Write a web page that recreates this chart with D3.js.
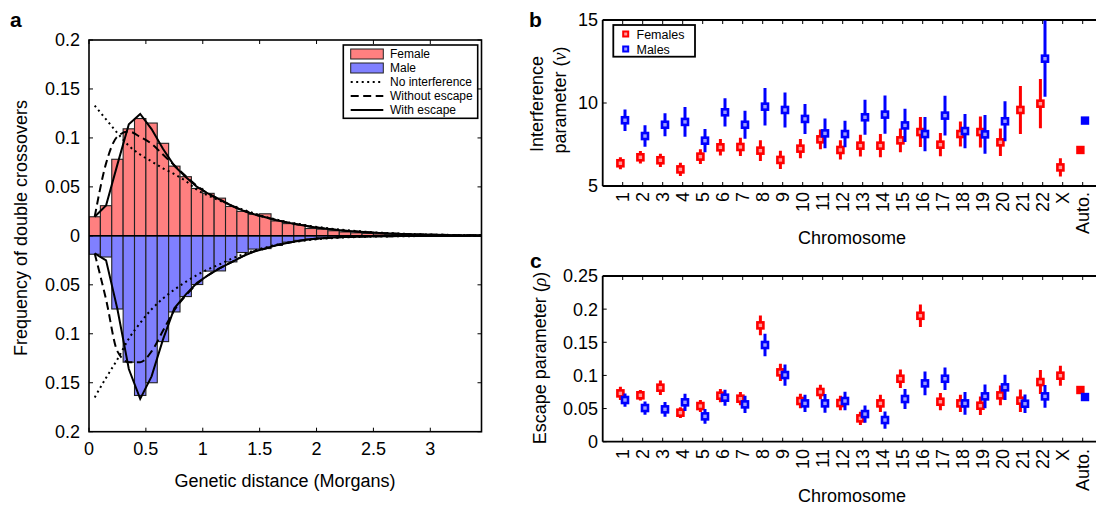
<!DOCTYPE html>
<html><head><meta charset="utf-8">
<script src="https://cdn.jsdelivr.net/npm/d3@7"></script>
<style>
body{margin:0;background:#fff;}
text{font-family:"Liberation Sans",Arial,Helvetica,sans-serif;fill:#000;}
</style></head>
<body><svg id="c" width="1096" height="505"></svg>
<script>
// ---------- Panel a data ----------
const binStarts = [0,0.1,0.2,0.3,0.4,0.5,0.6,0.7,0.8,0.9,1.0,1.1,1.2,1.3,1.4,1.5,1.6,1.7,1.8,1.9,2.0,2.1,2.2,2.3,2.4,2.5,2.6,2.7,2.8,2.9,3.0,3.1,3.2,3.3,3.4];
const binCenters = [0.05,0.15,0.25,0.35,0.45,0.55,0.65,0.75,0.85,0.95,1.05,1.15,1.25,1.35,1.45,1.55,1.65,1.75,1.85,1.95,2.05,2.15,2.25,2.35,2.45,2.55,2.65,2.75,2.85,2.95,3.05,3.15,3.25,3.35,3.45];
const femaleFreq = [0.0195,0.0308,0.0782,0.1093,0.1198,0.1152,0.0945,0.0712,0.0604,0.0484,0.0434,0.0385,0.0300,0.0250,0.0220,0.0225,0.0152,0.0125,0.0114,0.0075,0.0068,0.0052,0.0040,0.0031,0.0025,0.0019,0.0015,0.0011,0.0009,0.0007,0.0005,0.0004,0.0003,0.0002,0.0002];
const maleFreq = [0.0188,0.0216,0.0747,0.1290,0.1630,0.1500,0.1080,0.0777,0.0620,0.0497,0.0360,0.0358,0.0266,0.0170,0.0135,0.0130,0.0098,0.0064,0.0046,0.0031,0.0022,0.0016,0.0011,0.0008,0.0006,0.0004,0.0003,0.0002,0.0002,0.0001,0.0001,0.0001,0.0001,0.0000,0.0000];
const femaleWithEscape = [0.0195,0.031,0.073,0.114,0.1245,0.109,0.089,0.0715,0.060,0.050,0.043,0.037,0.031,0.026,0.022,0.019,0.016,0.0135,0.0113,0.0094,0.0078,0.0064,0.0053,0.0044,0.0036,0.003,0.0024,0.002,0.0016,0.0013,0.0011,0.0009,0.0007,0.0006,0.0005];
const femaleWithoutEscape = [0.0195,0.074,0.1015,0.1065,0.101,0.094,0.083,0.072,0.061,0.051,0.043,0.037,0.031,0.026,0.022,0.019,0.016,0.0135,0.0113,0.0094,0.0078,0.0064,0.0053,0.0044,0.0036,0.003,0.0024,0.002,0.0016,0.0013,0.0011,0.0009,0.0007,0.0006,0.0005];
const femaleNoInterf = [0.133,0.119,0.105,0.092,0.083,0.076,0.069,0.063,0.056,0.047,0.041,0.036,0.031,0.027,0.023,0.0195,0.0165,0.014,0.012,0.010,0.0085,0.007,0.006,0.005,0.004,0.0033,0.0027,0.0022,0.0018,0.0015,0.0012,0.001,0.0008,0.0007,0.0006];
const maleWithEscape = [0.018,0.025,0.075,0.136,0.1665,0.1435,0.106,0.074,0.060,0.048,0.040,0.033,0.027,0.021,0.016,0.013,0.0095,0.007,0.005,0.0035,0.0025,0.0018,0.0012,0.0008,0.0006,0.0004,0.0003,0.0002,0.0002,0.0001,0.0001,0.0001,0.0001,0,0];
const maleWithoutEscape = [0.018,0.065,0.118,0.129,0.129,0.118,0.097,0.076,0.061,0.049,0.040,0.033,0.027,0.021,0.016,0.013,0.0095,0.007,0.005,0.0035,0.0025,0.0018,0.0012,0.0008,0.0006,0.0004,0.0003,0.0002,0.0002,0.0001,0.0001,0.0001,0.0001,0,0];
const maleNoInterf = [0.165,0.145,0.126,0.105,0.089,0.075,0.064,0.055,0.047,0.040,0.034,0.029,0.0235,0.019,0.015,0.012,0.009,0.007,0.0055,0.004,0.003,0.0022,0.0016,0.0012,0.0009,0.0007,0.0005,0.0004,0.0003,0.0002,0.0002,0.0001,0.0001,0.0001,0.0001];
const aXTicks = [0,0.5,1,1.5,2,2.5,3];
const aYTicks = [-0.2,-0.15,-0.1,-0.05,0,0.05,0.1,0.15,0.2];
const aYTickLabels = ["0.2","0.15","0.1","0.05","0","0.05","0.1","0.15","0.2"];

// ---------- Panels b, c data ----------
const chromLabels = ["1","2","3","4","5","6","7","8","9","10","11","12","13","14","15","16","17","18","19","20","21","22","X","Auto."];
const nuFemale    = [6.37,6.73,6.55,6.0,6.77,7.33,7.35,7.13,6.57,7.25,7.81,7.17,7.43,7.43,7.75,8.25,7.49,8.13,8.25,7.63,9.58,9.96,6.12,7.17];
const nuFemaleErr = [0.36,0.38,0.4,0.4,0.45,0.5,0.55,0.62,0.55,0.58,0.6,0.58,0.65,0.7,0.72,0.9,0.7,0.75,0.93,0.83,1.45,1.48,0.55,0];
const nuMale      = [8.96,8.01,8.69,8.86,7.73,9.44,8.69,9.78,9.58,9.04,8.17,8.13,9.14,9.3,8.65,8.13,9.24,8.31,8.11,8.9,null,12.67,null,8.94];
const nuMaleErr   = [0.65,0.65,0.7,0.9,0.7,0.85,0.85,1.13,1.05,0.9,0.9,0.8,1.05,1.15,1.0,1.03,1.2,1.03,1.16,1.2,null,2.3,null,0];
const rhoFemale    = [0.0729,0.070,0.0815,0.0438,0.0538,0.0694,0.0649,0.1755,0.1046,0.0614,0.075,0.0583,0.0352,0.0578,0.095,0.190,0.0603,0.0578,0.0543,0.0699,0.0619,0.090,0.0996,0.078];
const rhoFemaleErr = [0.01,0.008,0.011,0.008,0.009,0.01,0.01,0.015,0.013,0.011,0.011,0.011,0.01,0.013,0.014,0.017,0.013,0.013,0.014,0.015,0.017,0.018,0.015,0];
const rhoMale      = [0.0629,0.0508,0.0488,0.0594,0.0382,0.0664,0.0563,0.1459,0.1006,0.0578,0.0578,0.0614,0.0417,0.0327,0.0644,0.088,0.095,0.0578,0.0684,0.082,0.0573,0.0684,null,0.0674];
const rhoMaleErr   = [0.01,0.01,0.011,0.013,0.011,0.012,0.013,0.017,0.016,0.013,0.014,0.014,0.013,0.013,0.015,0.018,0.017,0.017,0.018,0.019,0.014,0.017,null,0];
const bYTicks = [5,10,15];
const cYTicks = [0,0.05,0.1,0.15,0.2,0.25];
const cYTickLabels = ["0","0.05","0.1","0.15","0.2","0.25"];

const RED = "#ff0000", BLUE = "#0000ff";
const FEM_FILL = "#ff8080", MALE_FILL = "#8080ff";
const FS = 18;
const svg = d3.select("#c");
svg.append("rect").attr("width",1096).attr("height",505).attr("fill","#fff");

// ================= Panel a =================
(function(){
  const L=89, R=481.5, T=40, B=431.7;
  const x = d3.scaleLinear().domain([0,3.45]).range([L,R]);
  const y = d3.scaleLinear().domain([-0.2,0.2]).range([B,T]); // female up, male down
  const g = svg.append("g");
  g.append("defs").append("clipPath").attr("id","clipA").append("rect")
    .attr("x",L).attr("y",T).attr("width",R-L).attr("height",B-T);
  const plot = g.append("g").attr("clip-path","url(#clipA)");
  const bw = x(0.1)-x(0);
  plot.selectAll("rect.f").data(binStarts).join("rect")
    .attr("x",d=>x(d)).attr("width",bw)
    .attr("y",(d,i)=>y(femaleFreq[i])).attr("height",(d,i)=>y(0)-y(femaleFreq[i]))
    .attr("fill",FEM_FILL).attr("stroke","#222").attr("stroke-width",1.1);
  plot.selectAll("rect.m").data(binStarts).join("rect")
    .attr("x",d=>x(d)).attr("width",bw)
    .attr("y",y(0)).attr("height",(d,i)=>y(-maleFreq[i])-y(0))
    .attr("fill",MALE_FILL).attr("stroke","#222").attr("stroke-width",1.1);
  plot.append("line").attr("x1",L).attr("x2",R).attr("y1",y(0)).attr("y2",y(0))
    .attr("stroke","#000").attr("stroke-width",1.5);
  const styles = {
    dot:{dash:"2,3.5",w:2},
    dash:{dash:"8,4.5",w:2},
    solid:{dash:null,w:2}
  };
  function curve(vals, sign, st, curveType){
    const ln = d3.line().x((d,i)=>x(binCenters[i])).y(d=>y(sign*d)).curve(curveType);
    plot.append("path").attr("d",ln(vals)).attr("fill","none").attr("stroke","#000")
      .attr("stroke-width",st.w).attr("stroke-dasharray",st.dash).attr("stroke-linejoin","miter");
  }
  curve(femaleNoInterf,1,styles.dot,d3.curveMonotoneX);
  curve(maleNoInterf,-1,styles.dot,d3.curveMonotoneX);
  curve(femaleWithoutEscape,1,styles.dash,d3.curveMonotoneX);
  curve(maleWithoutEscape,-1,styles.dash,d3.curveMonotoneX);
  curve(femaleWithEscape,1,styles.solid,d3.curveLinear);
  curve(maleWithEscape,-1,styles.solid,d3.curveLinear);

  g.append("rect").attr("x",L).attr("y",T).attr("width",R-L).attr("height",B-T)
    .attr("fill","none").attr("stroke","#000").attr("stroke-width",1.6);
  const tl=4;
  aXTicks.forEach(v=>{
    g.append("line").attr("x1",x(v)).attr("x2",x(v)).attr("y1",B).attr("y2",B-tl).attr("stroke","#000");
    g.append("line").attr("x1",x(v)).attr("x2",x(v)).attr("y1",T).attr("y2",T+tl).attr("stroke","#000");
    g.append("text").attr("x",x(v)).attr("y",455).attr("text-anchor","middle").attr("font-size",FS).text(d3.format("")(v));
  });
  aYTicks.forEach((v,i)=>{
    g.append("line").attr("x1",L).attr("x2",L+tl).attr("y1",y(v)).attr("y2",y(v)).attr("stroke","#000");
    g.append("line").attr("x1",R).attr("x2",R-tl).attr("y1",y(v)).attr("y2",y(v)).attr("stroke","#000");
    g.append("text").attr("x",80).attr("y",y(v)).attr("dy","0.36em").attr("text-anchor","end").attr("font-size",FS).text(aYTickLabels[i]);
  });
  g.append("text").attr("x",285).attr("y",487).attr("text-anchor","middle").attr("font-size",FS).text("Genetic distance (Morgans)");
  g.append("text").attr("transform","translate(27,228) rotate(-90)").attr("text-anchor","middle").attr("font-size",FS).text("Frequency of double crossovers");
  g.append("text").attr("x",10).attr("y",27).attr("font-size",21).attr("font-weight","bold").text("a");

  // legend
  const lg = g.append("g");
  lg.append("rect").attr("x",343.3).attr("y",45).attr("width",134.4).attr("height",73.3)
    .attr("fill","#fff").attr("stroke","#000").attr("stroke-width",1.6);
  const items=[["Female","patch",FEM_FILL],["Male","patch",MALE_FILL],["No interference","dot"],["Without escape","dash"],["With escape","solid"]];
  items.forEach((it,i)=>{
    const cy = 54 + i*14;
    if(it[1]==="patch"){
      lg.append("rect").attr("x",350.7).attr("y",cy-5).attr("width",32.6).attr("height",10)
        .attr("fill",it[2]).attr("stroke","#222").attr("stroke-width",1);
    } else {
      const st=styles[it[1]];
      lg.append("line").attr("x1",350.7).attr("x2",383.3).attr("y1",cy).attr("y2",cy)
        .attr("stroke","#000").attr("stroke-width",st.w).attr("stroke-dasharray",st.dash);
    }
    lg.append("text").attr("x",390).attr("y",cy).attr("dy","0.36em").attr("font-size",12).text(it[0]);
  });
})();

// ================= Panels b & c =================
function errPanel(opts){
  const {T,B,yDomain,yTicks,yTickLabels,fVals,fErr,mVals,mErr,labelY,titleY,legend} = opts;
  const L=602.7;
  const x = d3.scaleLinear().domain([0,25]).range([L,L+500]);
  const y = d3.scaleLinear().domain(yDomain).range([B,T]);
  const g = svg.append("g");
  const clipId = "clip"+T;
  g.append("defs").append("clipPath").attr("id",clipId).append("rect")
    .attr("x",L).attr("y",T).attr("width",600).attr("height",B-T);
  g.append("line").attr("x1",L).attr("x2",1096).attr("y1",T).attr("y2",T).attr("stroke","#000").attr("stroke-width",1.8);
  g.append("line").attr("x1",L).attr("x2",1096).attr("y1",B).attr("y2",B).attr("stroke","#000").attr("stroke-width",1.8);
  g.append("line").attr("x1",L).attr("x2",L).attr("y1",T).attr("y2",B).attr("stroke","#000").attr("stroke-width",1.8);
  const tl=4;
  chromLabels.forEach((lab,i)=>{
    const xi = x(i+1);
    g.append("line").attr("x1",xi).attr("x2",xi).attr("y1",T).attr("y2",T+tl).attr("stroke","#000");
    g.append("line").attr("x1",xi).attr("x2",xi).attr("y1",B).attr("y2",B-tl).attr("stroke","#000");
    g.append("text").attr("transform",`translate(${xi},${labelY}) rotate(-90)`)
      .attr("text-anchor","end").attr("dy","0.36em").attr("font-size",FS).text(lab);
  });
  yTicks.forEach((v,i)=>{
    g.append("line").attr("x1",L).attr("x2",L+tl).attr("y1",y(v)).attr("y2",y(v)).attr("stroke","#000");
    g.append("text").attr("x",598).attr("y",y(v)).attr("dy","0.36em").attr("text-anchor","end").attr("font-size",FS).text(yTickLabels[i]);
  });
  g.append("text").attr("x",852).attr("y",titleY).attr("text-anchor","middle").attr("font-size",FS).text("Chromosome");
  const plot = g.append("g").attr("clip-path",`url(#${clipId})`);
  function series(vals, errs, color, fill, off){
    vals.forEach((v,i)=>{
      if(v===null) return;
      const xi = x(i+1)+off;
      if(errs[i]>0){
        plot.append("line").attr("x1",xi).attr("x2",xi)
          .attr("y1",y(v-errs[i])).attr("y2",y(Math.min(v+errs[i],yDomain[1])))
          .attr("stroke",color).attr("stroke-width",3);
        plot.append("rect").attr("x",xi-3).attr("y",y(v)-3).attr("width",6).attr("height",6)
          .attr("fill",fill).attr("stroke",color).attr("stroke-width",2.6);
      } else {
        plot.append("rect").attr("x",xi-4.2).attr("y",y(v)-4.2).attr("width",8.4).attr("height",8.4)
          .attr("fill",color);
      }
    });
  }
  series(fVals,fErr,RED,"#ff9c9c",-2.3);
  series(mVals,mErr,BLUE,"#9c9cff",2.3);
  if(legend){
    g.append("rect").attr("x",613.3).attr("y",25).attr("width",81.7).attr("height",31.7)
      .attr("fill","#fff").attr("stroke","#000").attr("stroke-width",1.8);
    [["Females",RED,"#ff9c9c"],["Males",BLUE,"#9c9cff"]].forEach((it,i)=>{
      const cy = 34 + i*15;
      g.append("rect").attr("x",625.7-2.5).attr("y",cy-2.5).attr("width",5).attr("height",5)
        .attr("fill",it[2]).attr("stroke",it[1]).attr("stroke-width",2);
      g.append("text").attr("x",636.5).attr("y",cy).attr("dy","0.36em").attr("font-size",12.5).text(it[0]);
    });
  }
  return g;
}

const gb = errPanel({T:20,B:186,yDomain:[5,15],yTicks:bYTicks,yTickLabels:bYTicks.map(String),
  fVals:nuFemale,fErr:nuFemaleErr,mVals:nuMale,mErr:nuMaleErr,labelY:192,titleY:244,legend:true});
gb.append("text").attr("transform","translate(543,104) rotate(-90)").attr("text-anchor","middle").attr("font-size",FS).text("Interference");
const tb2 = gb.append("text").attr("transform","translate(566,100) rotate(-90)").attr("text-anchor","middle").attr("font-size",FS);
tb2.append("tspan").text("parameter (");
tb2.append("tspan").attr("font-family","'Liberation Serif','Times New Roman',serif").attr("font-style","italic").text("ν");
tb2.append("tspan").text(")");
gb.append("text").attr("x",529).attr("y",27).attr("font-size",21).attr("font-weight","bold").text("b");

const gc = errPanel({T:276,B:441.7,yDomain:[0,0.25],yTicks:cYTicks,yTickLabels:cYTickLabels,
  fVals:rhoFemale,fErr:rhoFemaleErr,mVals:rhoMale,mErr:rhoMaleErr,labelY:449,titleY:502,legend:false});
const tc = gc.append("text").attr("transform","translate(546,358) rotate(-90)").attr("text-anchor","middle").attr("font-size",FS);
tc.append("tspan").text("Escape parameter (");
tc.append("tspan").attr("font-family","'Liberation Serif','Times New Roman',serif").attr("font-style","italic").text("ρ");
tc.append("tspan").text(")");
gc.append("text").attr("x",530).attr("y",268).attr("font-size",21).attr("font-weight","bold").text("c");
</script></body></html>
